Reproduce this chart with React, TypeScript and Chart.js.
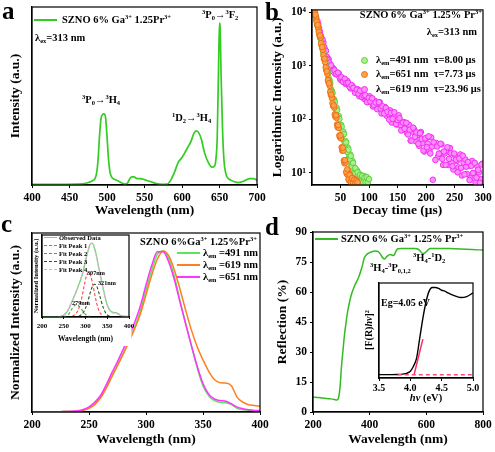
import React, { useEffect, useRef } from "react";
import { Chart, registerables } from "chart.js";
Chart.register(...registerables);

const W = 495;
const H = 452;
const SERIF = "'Liberation Serif', 'Times New Roman', serif";

// ---------- Panel a: emission spectrum ----------
const aWavelength = [400,420,440,460,470,475,480,484,486,488,490,492,494,496,498,500,502,504,506,510,515,520,524,527,530,533,536,540,545,550,555,560,565,570,575,580,585,590,595,600,605,608,612,616,619,622,626,630,635,640,643,645,647,649,650,651,652,654,656,658,660,665,670,675,680,685,690,695,700];
const aIntensity = [0.004,0.004,0.004,0.005,0.008,0.015,0.025,0.04,0.07,0.15,0.3,0.41,0.435,0.44,0.42,0.3,0.16,0.08,0.05,0.035,0.025,0.012,0.006,0.01,0.035,0.05,0.05,0.04,0.04,0.033,0.025,0.018,0.01,0.005,0.004,0.005,0.03,0.08,0.14,0.17,0.21,0.235,0.27,0.32,0.334,0.325,0.28,0.2,0.14,0.11,0.115,0.15,0.3,0.8,1.0,0.95,0.7,0.35,0.15,0.08,0.05,0.03,0.02,0.015,0.02,0.03,0.04,0.04,0.03];
const aTicks = [400,450,500,550,600,650,700];

// ---------- Panel b: decay curves (two interleaved sample sets per series) ----------
const bTimeGreen = [5,7,9,11,13,15,17,19,21,23,25,27,29,31,33,35,37,39,41,43,45,47,49,51,53,55,57,59,61,63,65,67,69,71,73,75,77,79,81,83,85,87,89,91,93,95,97,99];
const bGreen491 = [10000,8100,6000,5250,3900,3300,2400,2040,1480,1320,955,851,603,537,372,339,245,234,170,166,115,115,79,79,55,59,38,39,26,29.5,19.5,22,14,16.6,10.2,12.3,8.3,11,7.6,9.5,6.9,8.9,6.8,8.7,7.2,8.3,7.1,7.6];
const bTimeGreenB = [6,8,10,12,14,16,18,20,22,24,26,28,30,32,34,36,38,40,42,44,46,48,50,52,54,56,58,60,62,64,66,68,70,72,74,76,78,80,82,84,86,88,90,92,94,96,98,100];
const bGreen491B = [8700,7400,5500,4570,3390,2880,2160,1780,1330,1150,832,724,525,468,339,309,229,209,151,148,107,102,72,73,51,53,34,37,24.5,27,18,20.7,13.2,15.3,9.5,12.2,8.2,10.2,7.1,9.1,6.8,8.7,6.6,8.1,6.6,8.3,6.6,7.6];
const bTimeOrange = [5,7,9,11,13,15,17,19,21,23,25,27,29,31,33,35,37,39,41,43,45,47,49,51,53,55,57,59,61,63,65,67,69,71,73,75,77,79];
const bOrange651 = [10000,8300,5900,5130,3800,3390,2400,2000,1350,1175,832,708,490,427,288,251,178,166,112,107,71,69,46,44,26,26,15,15.5,9.5,11,7.2,9.1,6.6,7.9,6.6,7.6,6.3,6.9];
const bTimeOrangeB = [6,8,10,12,14,16,18,20,22,24,26,28,30,32,34,36,38,40,42,44,46,48,50,52,54,56,58,60,62,64,66,68,70,72,74,76,78,80];
const bOrange651B = [9100,6760,5890,4370,3720,2660,2260,1585,1365,944,794,543,473,327,292,200,182,123,119,80,78,50,50,30,29.5,17,17.2,10.4,11.6,7.6,9.1,6.7,7.9,6.5,7.4,6.5,7.1,6.6];
const bTimePink = [5,8,11,14,17,20,23,26,29,32,35,38,41,44,47,50,53,56,59,62,65,68,71,74,77,80,83,86,89,92,95,98,101,104,107,110,113,116,119,122,125,128,131,134,137,140,143,146,149,152,155,158,161,164,167,170,173,176,179,182,185,188,191,194,197,200,203,206,209,212,215,218,221,224,227,230,233,236,239,242,245,248,251,254,257,260,263,266,269,272,275,278,281,284,287,290,293,296,299];
const bPink619 = [10000,7180,6120,4400,3240,2740,2010,1480,1350,964,946,887,708,700,724,550,589,569,462,522,427,378,417,372,328,366,271,310,313,241,264,211,270,211,174,223,194,160,209,129,166,170,117,126,147,87,113,117,80,119,78,63,89,71,55,79,40,59,65,39,50,32,58,36,25,44,35,26,46,7.4,33,36,20,23,34,14,23,26,14,29,15.5,11.5,21,16.6,12.6,22,8.9,15.5,17.8,9.5,13.5,7.9,16.6,9.8,6.6,13.2,10.2,7.6,14.8];
const bTimePinkB = [6.5,9.5,12.5,15.5,18.5,21.5,24.5,27.5,30.5,33.5,36.5,39.5,42.5,45.5,48.5,51.5,54.5,57.5,60.5,63.5,66.5,69.5,72.5,75.5,78.5,81.5,84.5,87.5,90.5,93.5,96.5,99.5,102.5,105.5,108.5,111.5,114.5,117.5,120.5,123.5,126.5,129.5,132.5,135.5,138.5,141.5,144.5,147.5,150.5,153.5,156.5,159.5,162.5,165.5,168.5,171.5,174.5,177.5,180.5,183.5,186.5,189.5,192.5,195.5,198.5,201.5,204.5,207.5,210.5,213.5,216.5,219.5,222.5,225.5,228.5,231.5,234.5,237.5,240.5,243.5,246.5,249.5,252.5,255.5,258.5,261.5,264.5,267.5,270.5,273.5,276.5,279.5,282.5,285.5,288.5,291.5,294.5,297.5];
const bPink619B = [8360,6930,5140,3700,3130,2240,1920,1290,1150,1030,794,832,716,750,603,617,503,575,479,484,400,437,388,315,359,303,344,262,277,283,209,252,216,248,186,207,155,209,160,176,129,164,138,99,132,102,136,82,97,105,62,87,67,86,52,64,40,70,47,57,35,55,43,26,44,30,48,23,31,37,17.4,31,22.8,35,18.2,25,14.1,30,18.2,23.4,13.2,22.9,17.6,10.2,18.6,12.3,20.9,9.3,13,15.8,7.3,13.5,9.9,15.3,8.1,11.4,6.5,14.3];
const bTimeTicks = [50,100,150,200,250,300];
const bLogTicks = [10,100,1000,10000];

// ---------- Panel c: excitation spectra ----------
const cWavelength = [200,205,210,215,220,225,230,235,240,245,250,255,260,265,270,275,280,285,290,295,300,305,310,315,320,325,330,335,340,345,350,355,360,365,370,375,380,385,390,395,400];
const c491 = [0.002,0.002,0.002,0.002,0.002,0.002,0.003,0.003,0.005,0.01,0.025,0.05,0.09,0.15,0.22,0.29,0.36,0.44,0.52,0.62,0.75,0.87,0.97,0.99,0.94,0.83,0.68,0.54,0.40,0.27,0.16,0.10,0.07,0.06,0.057,0.045,0.022,0.014,0.01,0.008,0.006];
const c619 = [0.002,0.002,0.002,0.002,0.002,0.002,0.003,0.003,0.005,0.01,0.022,0.045,0.085,0.145,0.215,0.285,0.355,0.43,0.51,0.60,0.72,0.84,0.94,0.99,0.96,0.87,0.75,0.62,0.50,0.40,0.32,0.25,0.20,0.18,0.178,0.16,0.09,0.06,0.045,0.04,0.035];
const c651 = [0.002,0.002,0.002,0.002,0.002,0.002,0.003,0.004,0.007,0.015,0.032,0.06,0.1,0.165,0.24,0.31,0.385,0.465,0.55,0.65,0.78,0.9,0.985,0.985,0.92,0.81,0.67,0.535,0.405,0.28,0.175,0.11,0.08,0.07,0.066,0.05,0.03,0.02,0.014,0.01,0.008];
const cTicks = [200,250,300,350,400];
// inset: Gaussian fit components
const icFit1X = [250,260,265,270,275,279,283,290,295,300,310];
const icFit1Y = [0,0.03,0.07,0.12,0.155,0.165,0.155,0.11,0.07,0.035,0.005];
const icFit2X = [270,280,290,297,302,307,312,318,325,332,340];
const icFit2Y = [0.01,0.06,0.22,0.42,0.55,0.6,0.55,0.4,0.2,0.07,0.015];
const icFit3X = [285,295,305,312,317,321,326,332,340,348,355];
const icFit3Y = [0.01,0.06,0.2,0.35,0.42,0.44,0.41,0.3,0.14,0.04,0.01];
const icFit4X = [240,250,260,270,280,290,300,310,315,320,330,340,350,360,370,380,390,400];
const icFit4Y = [0.005,0.03,0.1,0.23,0.37,0.53,0.76,0.96,0.99,0.93,0.67,0.39,0.16,0.06,0.05,0.02,0.008,0.005];

// ---------- Panel d: diffuse reflection ----------
const dWavelength = [200,220,240,260,275,284,289,295,301,306,311,316,322,329,336,348,360,372,381,388,395,405,419,430,436,442,448,453,460,466,472,478,484,490,495,500,513,540,560,570,578,584,590,595,600,607,613,640,680,720,760,800];
const dReflection = [7.4,7.2,6.9,6.6,6.3,6.0,6.6,11.8,23.5,31,38.5,44,50,55,59,63.5,67,72,77,78.5,79.3,80,80.5,80.2,79.3,78,76.8,76.5,77.7,78.3,78.8,78.5,78.2,79.5,81,81.6,81.8,81.8,81.8,81.5,80.5,79.5,79.3,79.6,80.2,81.2,81.8,81.8,81.7,81.5,81.2,81.0];
const dTicksX = [200,400,600,800];
const dTicksY = [0,15,30,45,60,75,90];
// inset: Kubelka-Munk plot
const idEnergy = [3.5,3.6,3.7,3.8,3.9,3.95,4.0,4.05,4.1,4.15,4.2,4.25,4.3,4.35,4.4,4.45,4.5,4.55,4.6,4.7,4.8,4.9,5.0];
const idKM = [0.037,0.037,0.037,0.038,0.045,0.055,0.075,0.13,0.22,0.44,0.66,0.84,0.96,1.0,1.0,0.99,0.97,0.96,0.94,0.91,0.89,0.9,0.94];
const idTangentX = [4.06,4.2];
const idTangentY = [0.037,0.43];
const idBaseX = [3.8,5.0];
const idBaseY = [0.037,0.037];
const idTicks = [3.5,4.0,4.5,5.0];

// ---------- helpers ----------
const pts = (xs: number[], ys: number[]) => xs.map((x, i) => ({ x, y: ys[i] }));

const framePlugin: any = {
  id: "frame",
  beforeDraw(chart: any, _a: any, opts: any) {
    if (opts && opts.bg) {
      const ctx = chart.ctx;
      ctx.save();
      ctx.fillStyle = "#fff";
      ctx.fillRect(opts.bg.x, opts.bg.y, opts.bg.w, opts.bg.h);
      ctx.restore();
    }
  },
  afterDraw(chart: any) {
    const { ctx, chartArea: a } = chart;
    ctx.save();
    ctx.strokeStyle = "#000";
    ctx.lineWidth = 1.2;
    ctx.strokeRect(a.left, a.top, a.right - a.left, a.bottom - a.top);
    ctx.restore();
  },
};

type AxisOpt = {
  min: number; max: number; ticks?: number[]; labels?: boolean; fmt?: (v: number) => string;
  title?: string; titleSize?: number; tickSize?: number; size: number; horiz: boolean;
  type?: string; tickLen?: number; tickPad?: number;
};

function axis(o: AxisOpt): any {
  const tl = o.tickLen ?? 3;
  return {
    type: o.type ?? "linear",
    position: o.horiz ? "bottom" : "left",
    min: o.min,
    max: o.max,
    afterBuildTicks: (s: any) => { s.ticks = (o.ticks ?? []).map((v) => ({ value: v })); },
    afterFit: (s: any) => { if (o.horiz) s.height = o.size; else s.width = o.size; },
    grid: { display: tl > 0, drawOnChartArea: false, drawTicks: tl > 0, tickLength: tl, color: "#000", lineWidth: 1 },
    border: { display: true, color: "#000", width: 1.2 },
    ticks: {
      display: o.labels !== false,
      color: "#000",
      font: { family: SERIF, size: o.tickSize ?? 11.5, weight: "bold" },
      padding: o.tickPad ?? 3,
      maxRotation: 0,
      autoSkip: false,
      callback: (v: any) => (o.fmt ? o.fmt(Number(v)) : String(v)),
    },
    title: o.title
      ? { display: true, text: o.title, color: "#000", font: { family: SERIF, size: o.titleSize ?? 13.5, weight: "bold" }, padding: 0 }
      : { display: false },
  };
}

function baseOptions(pad: any, x: any, y: any, bg?: any): any {
  return {
    responsive: false,
    animation: false,
    devicePixelRatio: 1,
    events: [],
    layout: { padding: pad },
    plugins: { legend: { display: false }, tooltip: { enabled: false }, frame: bg ? { bg } : {} },
    scales: { x, y },
  };
}

const line = (data: any, color: string, width = 1.5, dash: number[] = [], order = 0) => ({
  type: "line",
  data,
  borderColor: color,
  borderWidth: width,
  borderDash: dash,
  pointRadius: 0,
  fill: false,
  cubicInterpolationMode: "monotone",
  order,
});

const scatter = (data: any, fill: string, edge: string, order: number) => ({
  type: "scatter",
  data,
  backgroundColor: fill,
  borderColor: edge,
  pointBackgroundColor: fill,
  pointBorderColor: edge,
  pointBorderWidth: 1,
  pointRadius: 2.8,
  showLine: false,
  order,
});

const supMap: Record<number, string> = { 1: "\u00b9", 2: "\u00b2", 3: "\u00b3", 4: "\u2074" };

function configA(): any {
  return {
    type: "line",
    data: { datasets: [line(pts(aWavelength, aIntensity), "#33cc22", 1.7)] },
    options: baseOptions(
      { left: 7, right: 238, top: 7, bottom: 233 },
      axis({ min: 400, max: 700, ticks: aTicks, size: 34, horiz: true, title: "Wavelength (nm)" }),
      axis({ min: 0, max: 1.1, labels: false, tickLen: 0, size: 25, horiz: false, title: "Intensity (a.u.)" })
    ),
    plugins: [framePlugin],
  };
}

function configB(): any {
  return {
    type: "scatter",
    data: {
      datasets: [
        scatter(pts(bTimeOrange.concat(bTimeOrangeB), bOrange651.concat(bOrange651B)), "#ffa050", "#f07010", 0),
        scatter(pts(bTimeGreen.concat(bTimeGreenB), bGreen491.concat(bGreen491B)), "#a8f088", "#5fd040", 1),
        scatter(pts(bTimePink.concat(bTimePinkB), bPink619.concat(bPink619B)), "#ff8cff", "#f030f0", 2),
      ],
    },
    options: baseOptions(
      { left: 269, right: 12, top: 7, bottom: 233 },
      axis({ min: 0, max: 300, ticks: bTimeTicks, size: 34, horiz: true, title: "Decay time (\u03bcs)" }),
      axis({ type: "logarithmic", min: 5.9, max: 11200, ticks: bLogTicks, size: 43, horiz: false, title: "Logarithmic Intensity (a.u.)", fmt: (v) => "10" + supMap[Math.round(Math.log10(v))] })
    ),
    plugins: [framePlugin],
  };
}

function configC(): any {
  return {
    type: "line",
    data: {
      datasets: [
        line(pts(cWavelength, c491), "#5ee35e", 1.5, [], 2),
        line(pts(cWavelength, c619), "#ff7f1e", 1.5, [], 1),
        line(pts(cWavelength, c651), "#ff33ff", 1.5, [], 0),
      ],
    },
    options: baseOptions(
      { left: 7, right: 235, top: 233, bottom: 4 },
      axis({ min: 200, max: 400, ticks: cTicks, size: 36, horiz: true, title: "Wavelength (nm)" }),
      axis({ min: 0, max: 1.1, labels: false, tickLen: 0, size: 25, horiz: false, title: "Normalized Intensity (a.u.)" })
    ),
    plugins: [framePlugin],
  };
}

function configCInset(): any {
  return {
    type: "line",
    data: {
      datasets: [
        line(pts(icFit4X, icFit4Y), "#eaa0ea", 1.1, [3, 2], 0),
        line(pts(icFit3X, icFit3Y), "#1d5e1d", 1.1, [3, 2], 1),
        line(pts(icFit2X, icFit2Y), "#ff4444", 1.1, [3, 2], 2),
        line(pts(icFit1X, icFit1Y), "#4aa84a", 1.1, [3, 2], 3),
        line(pts(cWavelength, c491), "#66e066", 1.3, [], 4),
      ],
    },
    options: baseOptions(
      { left: 32, right: 366, top: 235, bottom: 108 },
      axis({ min: 200, max: 400, ticks: cTicks, size: 27, horiz: true, title: "Wavelength (nm)", titleSize: 7.5, tickSize: 7, tickLen: 2, tickPad: 3 }),
      axis({ min: 0, max: 1.1, labels: false, tickLen: 0, size: 10, horiz: false, title: "Normalized Intensity (a.u.)", titleSize: 6.5 }),
      { x: 33.5, y: 234, w: 98, h: 112 }
    ),
    plugins: [framePlugin],
  };
}

function configD(): any {
  return {
    type: "line",
    data: { datasets: [line(pts(dWavelength, dReflection), "#33bb22", 1.5)] },
    options: baseOptions(
      { left: 274, right: 12, top: 232, bottom: 4 },
      axis({ min: 200, max: 800, ticks: dTicksX, size: 36, horiz: true, title: "Wavelength (nm)" }),
      axis({ min: 0, max: 90, ticks: dTicksY, size: 39, horiz: false, title: "Reflection (%)" })
    ),
    plugins: [framePlugin],
  };
}

function configDInset(): any {
  return {
    type: "line",
    data: {
      datasets: [
        line(pts(idBaseX, idBaseY), "#ff4d7a", 1.5, [4, 3], 0),
        line(pts(idTangentX, idTangentY), "#ff2a66", 1.5, [], 1),
        line(pts(idEnergy, idKM), "#000000", 1.4, [], 2),
      ],
    },
    options: baseOptions(
      { left: 362, right: 22, top: 283, bottom: 48 },
      axis({ min: 3.5, max: 5.0, ticks: idTicks, size: 26, horiz: true, tickSize: 10, tickLen: 3, tickPad: 1, fmt: (v) => v.toFixed(1) }),
      axis({ min: 0, max: 1.05, labels: false, tickLen: 0, size: 17, horiz: false })
    ),
    plugins: [framePlugin],
  };
}

function ChartCanvas({ make }: { make: () => any }) {
  const ref = useRef<HTMLCanvasElement>(null);
  useEffect(() => {
    const chart = new Chart(ref.current as HTMLCanvasElement, make());
    return () => chart.destroy();
  }, []);
  return (
    <canvas
      ref={ref}
      width={W}
      height={H}
      style={{ position: "absolute", left: 0, top: 0, width: W, height: H }}
    />
  );
}

const Sup = ({ children }: any) => (
  <span style={{ fontSize: "0.62em", position: "relative", top: "-0.55em", lineHeight: 0 }}>{children}</span>
);
const Sub = ({ children }: any) => (
  <span style={{ fontSize: "0.62em", position: "relative", top: "0.3em", lineHeight: 0 }}>{children}</span>
);

function Txt({ x, y, size = 10.5, align = "left", children, rotate = false }: any) {
  const style: any = {
    position: "absolute",
    fontFamily: SERIF,
    fontWeight: "bold",
    fontSize: size,
    lineHeight: `${size * 1.2}px`,
    whiteSpace: "nowrap",
    color: "#000",
  };
  if (rotate) {
    style.left = x;
    style.top = y;
    style.transform = "translate(-50%, -50%) rotate(-90deg)";
  } else {
    style.top = y - size * 0.61;
    if (align === "right") style.right = W - x;
    else if (align === "center") {
      style.left = x;
      style.transform = "translateX(-50%)";
    } else style.left = x;
  }
  return <div style={style}>{children}</div>;
}

const Swatch = ({ x, y, w, color, dashed = false, h = 2 }: any) => (
  <div
    style={{
      position: "absolute",
      left: x,
      top: y - h / 2,
      width: w,
      height: 0,
      borderTop: `${h}px ${dashed ? "dashed" : "solid"} ${color}`,
    }}
  />
);

const Dot = ({ x, y, fill, edge }: any) => (
  <div
    style={{
      position: "absolute",
      left: x - 3.5,
      top: y - 3.5,
      width: 5,
      height: 5,
      borderRadius: "50%",
      background: fill,
      border: `1px solid ${edge}`,
    }}
  />
);

function Letter({ x, y, ch }: any) {
  return (
    <div style={{ position: "absolute", left: x, top: y, fontFamily: SERIF, fontWeight: "bold", fontSize: 25, lineHeight: "25px", color: "#000" }}>
      {ch}
    </div>
  );
}

export default function App() {
  return (
    <div style={{ position: "absolute", left: 0, top: 0, width: W, height: H, background: "#fff", overflow: "hidden" }}>
      <ChartCanvas make={configA} />
      <ChartCanvas make={configB} />
      <ChartCanvas make={configC} />
      <ChartCanvas make={configD} />
      <ChartCanvas make={configCInset} />
      <ChartCanvas make={configDInset} />

      {/* panel letters */}
      <Letter x={2} y={-2} ch="a" />
      <Letter x={265} y={-1} ch="b" />
      <Letter x={1} y={211} ch="c" />
      <Letter x={265} y={214} ch="d" />

      {/* panel a */}
      <Swatch x={34} y={20} w={23} color="#33cc22" />
      <Txt x={62} y={20}>SZNO 6% Ga<Sup>3+</Sup> 1.25Pr<Sup>3+</Sup></Txt>
      <Txt x={35} y={38}>λ<Sub>ex</Sub>=313 nm</Txt>
      <Txt x={82} y={100}><Sup>3</Sup>P<Sub>0</Sub>→<Sup>3</Sup>H<Sub>4</Sub></Txt>
      <Txt x={172} y={118}><Sup>1</Sup>D<Sub>2</Sub>→<Sup>3</Sup>H<Sub>4</Sub></Txt>
      <Txt x={202} y={15}><Sup>3</Sup>P<Sub>0</Sub>→<Sup>3</Sup>F<Sub>2</Sub></Txt>

      {/* panel b */}
      <Txt x={482} y={15} align="right">SZNO 6% Ga<Sup>3+</Sup> 1.25% Pr<Sup>3+</Sup></Txt>
      <Txt x={477} y={32} align="right">λ<Sub>ex</Sub>=313 nm</Txt>
      <Dot x={364} y={60} fill="#a8f088" edge="#5fd040" />
      <Dot x={364} y={74} fill="#ffa050" edge="#f07010" />
      <Dot x={364} y={89} fill="#ff8cff" edge="#f030f0" />
      <Txt x={376} y={60}>λ<Sub>em</Sub>=491 nm&nbsp;&nbsp;τ=8.00 μs</Txt>
      <Txt x={376} y={74}>λ<Sub>em</Sub>=651 nm&nbsp;&nbsp;τ=7.73 μs</Txt>
      <Txt x={376} y={89}>λ<Sub>em</Sub>=619 nm&nbsp;&nbsp;τ=23.96 μs</Txt>

      {/* panel c */}
      <Txt x={140} y={242}>SZNO 6%Ga<Sup>3+</Sup> 1.25%Pr<Sup>3+</Sup></Txt>
      <Swatch x={177} y={253} w={23} color="#5ee35e" />
      <Swatch x={177} y={265} w={23} color="#ff7f1e" />
      <Swatch x={177} y={277} w={23} color="#ff33ff" />
      <Txt x={203} y={253}>λ<Sub>em</Sub> =491 nm</Txt>
      <Txt x={203} y={265}>λ<Sub>em</Sub> =619 nm</Txt>
      <Txt x={203} y={277}>λ<Sub>em</Sub> =651 nm</Txt>

      {/* inset c legend and labels */}
      <Swatch x={44} y={238} w={13} color="#66e066" h={1.5} />
      <Swatch x={44} y={246} w={13} color="#4aa84a" dashed h={1.5} />
      <Swatch x={44} y={254} w={13} color="#ff4444" dashed h={1.5} />
      <Swatch x={44} y={262} w={13} color="#1d5e1d" dashed h={1.5} />
      <Swatch x={44} y={270} w={13} color="#eaa0ea" dashed h={1.5} />
      <Txt x={59} y={238} size={6.5}>Observed Data</Txt>
      <Txt x={59} y={246} size={6.5}>Fit Peak 1</Txt>
      <Txt x={59} y={254} size={6.5}>Fit Peak 2</Txt>
      <Txt x={59} y={262} size={6.5}>Fit Peak 3</Txt>
      <Txt x={59} y={270} size={6.5}>Fit Peak 4</Txt>
      <Txt x={87} y={273} size={6.2}>307nm</Txt>
      <Txt x={98} y={283} size={6.2}>321nm</Txt>
      <Txt x={72} y={303} size={6.2}>279nm</Txt>

      {/* panel d */}
      <Swatch x={315} y={239} w={23} color="#33bb22" />
      <Txt x={341} y={239}>SZNO 6% Ga<Sup>3+</Sup> 1.25% Pr<Sup>3+</Sup></Txt>
      <Txt x={370} y={268}><Sup>3</Sup>H<Sub>4</Sub>-<Sup>3</Sup>P<Sub>0,1,2</Sub></Txt>
      <Txt x={413} y={258}><Sup>3</Sup>H<Sub>4</Sub>-<Sup>1</Sup>D<Sub>2</Sub></Txt>
      <Txt x={381} y={303} size={10}>Eg=4.05 eV</Txt>
      <Txt x={369} y={330} size={10} rotate>[F(R)<i>hv</i>]<Sup>2</Sup></Txt>
      <Txt x={426} y={398} size={10.5} align="center"><i>hv</i> (eV)</Txt>
    </div>
  );
}
